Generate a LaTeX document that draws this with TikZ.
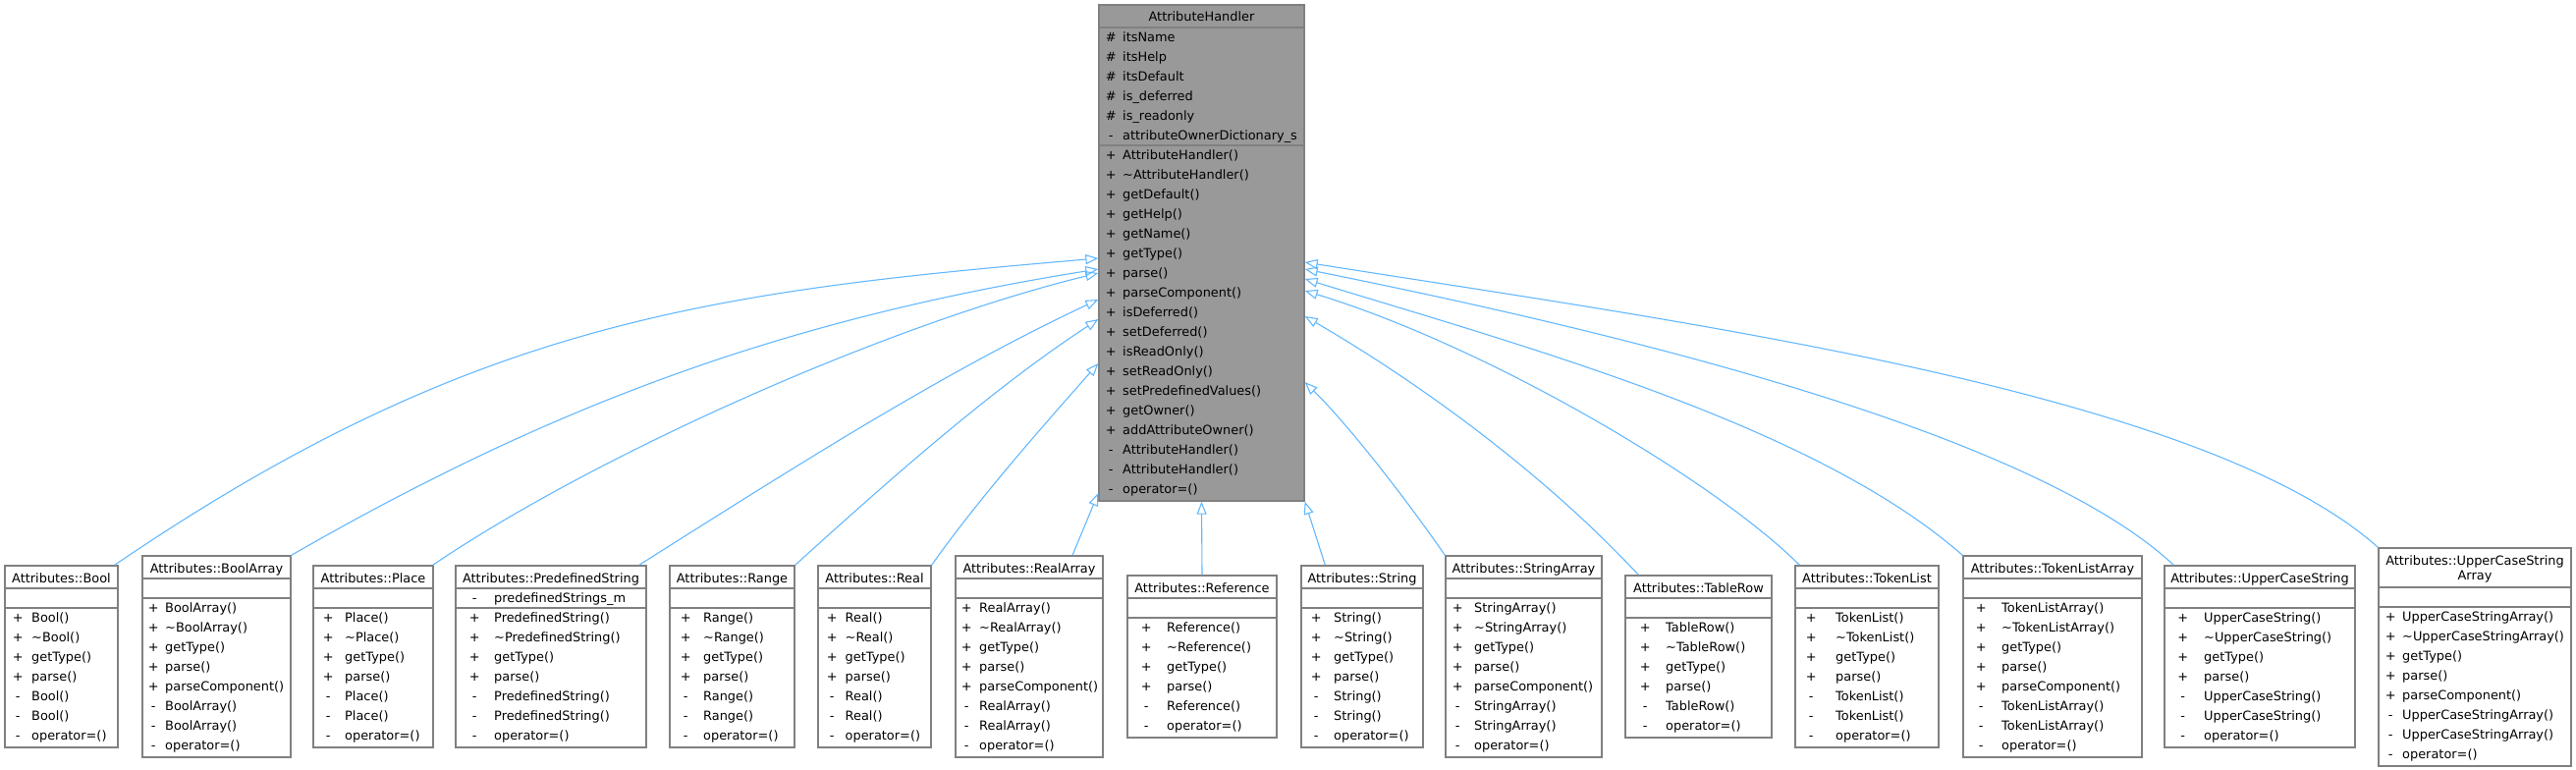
\documentclass[tikz,border=0pt]{standalone}
\usepackage{fontspec}
\setmainfont{DejaVu Sans}
\usetikzlibrary{arrows.meta,fit}
\definecolor{edgeblue}{HTML}{63B8FF}
\definecolor{boxgray}{HTML}{808080}
\definecolor{parentfill}{HTML}{999999}
\newlength{\mysymw}
\newlength{\mynamew}
\newcommand{\tld}{\textasciitilde}
\newcommand{\members}[3]{\setlength{\mysymw}{#1pt}\setlength{\mysymw}{2\mysymw}\setlength{\mynamew}{#2pt}\begin{tabular}{@{}l@{}}#3\end{tabular}}
\newcommand{\mem}[2]{\makebox[\mynamew][l]{\makebox[\mysymw][c]{#1}}#2\\}
\newcommand{\simplerows}[1]{\mem{+}{#1()}\mem{+}{\tld#1()}\mem{+}{getType()}\mem{+}{parse()}\mem{-}{#1()}\mem{-}{#1()}\mem{-}{operator=()}}
\newcommand{\arrayrows}[1]{\mem{+}{#1()}\mem{+}{\tld#1()}\mem{+}{getType()}\mem{+}{parse()}\mem{+}{parseComponent()}\mem{-}{#1()}\mem{-}{#1()}\mem{-}{operator=()}}
\newcommand{\shortrows}[1]{\mem{+}{#1()}\mem{+}{\tld#1()}\mem{+}{getType()}\mem{+}{parse()}\mem{-}{#1()}\mem{-}{operator=()}}
\begin{document}
\begin{tikzpicture}[x=1pt,y=-1pt,
  every node/.style={font=\fontsize{12.9}{20}\selectfont, inner sep=0pt, text=black},
  box/.style={draw=boxgray, line width=1.3pt, fill=white, inner sep=0pt},
  pbox/.style={box, fill=parentfill},
  div/.style={draw=boxgray, line width=1.3pt},
  inh/.style={draw=edgeblue, line width=1.1pt, -{Triangle[open, length=13pt, width=10pt]}}]
\useasboundingbox (0,0) rectangle (2623,784);

% ---------- parent ----------
\node[pbox, fit={(1119,5) (1328,510)}] (ah) {};
\draw[div] (ah.west |- 0,28) -- (ah.east |- 0,28);
\draw[div] (ah.west |- 0,148) -- (ah.east |- 0,148);
\node[anchor=base] (ah-t) at (1223.5,22) {AttributeHandler};
\node[anchor=north west] (ah-a) at (1119,28) {\members{12}{24}{\mem{\#}{itsName}\mem{\#}{itsHelp}\mem{\#}{itsDefault}\mem{\#}{is\_deferred}\mem{\#}{is\_readonly}\mem{-}{attributeOwnerDictionary\_s}}};
\node[anchor=north west] (ah-m) at (1119,148) {\members{12}{24}{\mem{+}{AttributeHandler()}\mem{+}{\tld AttributeHandler()}\mem{+}{getDefault()}\mem{+}{getHelp()}\mem{+}{getName()}\mem{+}{getType()}\mem{+}{parse()}\mem{+}{parseComponent()}\mem{+}{isDeferred()}\mem{+}{setDeferred()}\mem{+}{isReadOnly()}\mem{+}{setReadOnly()}\mem{+}{setPredefinedValues()}\mem{+}{getOwner()}\mem{+}{addAttributeOwner()}\mem{-}{AttributeHandler()}\mem{-}{AttributeHandler()}\mem{-}{operator=()}}};

% ---------- children ----------
% Bool
\node[box, fit={(5,576) (120,761)}] (bool) {};
\draw[div] (bool.west |- 0,599) -- (bool.east |- 0,599);
\draw[div] (bool.west |- 0,619) -- (bool.east |- 0,619);
\node[anchor=base] (bool-t) at (62.5,593) {Attributes::Bool};
\node[anchor=north west] (bool-m) at (5,619) {\members{13}{27}{\simplerows{Bool}}};
% BoolArray
\node[box, fit={(145,566) (296,771)}] (boolarray) {};
\draw[div] (boolarray.west |- 0,589) -- (boolarray.east |- 0,589);
\draw[div] (boolarray.west |- 0,609) -- (boolarray.east |- 0,609);
\node[anchor=base] (boolarray-t) at (220.5,583) {Attributes::BoolArray};
\node[anchor=north west] (boolarray-m) at (145,609) {\members{11}{23}{\arrayrows{BoolArray}}};
% Place
\node[box, fit={(319,576) (441,761)}] (place) {};
\draw[div] (place.west |- 0,599) -- (place.east |- 0,599);
\draw[div] (place.west |- 0,619) -- (place.east |- 0,619);
\node[anchor=base] (place-t) at (380,593) {Attributes::Place};
\node[anchor=north west] (place-m) at (319,619) {\members{15}{32}{\simplerows{Place}}};
% PredefinedString
\node[box, fit={(464,576) (658,761)}] (predef) {};
\draw[div] (predef.west |- 0,599) -- (predef.east |- 0,599);
\draw[div] (predef.west |- 0,619) -- (predef.east |- 0,619);
\node[anchor=base] (predef-t) at (561,593) {Attributes::PredefinedString};
\node[anchor=north west] (predef-a) at (464,599) {\members{19}{39}{\mem{-}{predefinedStrings\_m}}};
\node[anchor=north west] (predef-m) at (464,619) {\members{19}{39}{\simplerows{PredefinedString}}};
% Range
\node[box, fit={(682,576) (809,761)}] (range) {};
\draw[div] (range.west |- 0,599) -- (range.east |- 0,599);
\draw[div] (range.west |- 0,619) -- (range.east |- 0,619);
\node[anchor=base] (range-t) at (745.5,593) {Attributes::Range};
\node[anchor=north west] (range-m) at (682,619) {\members{16}{34}{\simplerows{Range}}};
% Real
\node[box, fit={(833,576) (948,761)}] (real) {};
\draw[div] (real.west |- 0,599) -- (real.east |- 0,599);
\draw[div] (real.west |- 0,619) -- (real.east |- 0,619);
\node[anchor=base] (real-t) at (890.5,593) {Attributes::Real};
\node[anchor=north west] (real-m) at (833,619) {\members{14}{27.5}{\simplerows{Real}}};
% RealArray
\node[box, fit={(973,566) (1123,771)}] (realarray) {};
\draw[div] (realarray.west |- 0,589) -- (realarray.east |- 0,589);
\draw[div] (realarray.west |- 0,609) -- (realarray.east |- 0,609);
\node[anchor=base] (realarray-t) at (1048,583) {Attributes::RealArray};
\node[anchor=north west] (realarray-m) at (973,609) {\members{11}{24}{\arrayrows{RealArray}}};
% Reference
\node[box, fit={(1148,586) (1300,751)}] (reference) {};
\draw[div] (reference.west |- 0,609) -- (reference.east |- 0,609);
\draw[div] (reference.west |- 0,629) -- (reference.east |- 0,629);
\node[anchor=base] (reference-t) at (1224,603) {Attributes::Reference};
\node[anchor=north west] (reference-m) at (1148,629) {\members{19}{40}{\shortrows{Reference}}};
% String
\node[box, fit={(1325,576) (1449,761)}] (string) {};
\draw[div] (string.west |- 0,599) -- (string.east |- 0,599);
\draw[div] (string.west |- 0,619) -- (string.east |- 0,619);
\node[anchor=base] (string-t) at (1387,593) {Attributes::String};
\node[anchor=north west] (string-m) at (1325,619) {\members{15}{33}{\simplerows{String}}};
% StringArray
\node[box, fit={(1472,566) (1631,771)}] (stringarray) {};
\draw[div] (stringarray.west |- 0,589) -- (stringarray.east |- 0,589);
\draw[div] (stringarray.west |- 0,609) -- (stringarray.east |- 0,609);
\node[anchor=base] (stringarray-t) at (1551.5,583) {Attributes::StringArray};
\node[anchor=north west] (stringarray-m) at (1472,609) {\members{12}{29}{\arrayrows{StringArray}}};
% TableRow
\node[box, fit={(1655,586) (1804,751)}] (tablerow) {};
\draw[div] (tablerow.west |- 0,609) -- (tablerow.east |- 0,609);
\draw[div] (tablerow.west |- 0,629) -- (tablerow.east |- 0,629);
\node[anchor=base] (tablerow-t) at (1729.5,603) {Attributes::TableRow};
\node[anchor=north west] (tablerow-m) at (1655,629) {\members{20}{41}{\shortrows{TableRow}}};
% TokenList
\node[box, fit={(1828,576) (1974,761)}] (tokenlist) {};
\draw[div] (tokenlist.west |- 0,599) -- (tokenlist.east |- 0,599);
\draw[div] (tokenlist.west |- 0,619) -- (tokenlist.east |- 0,619);
\node[anchor=base] (tokenlist-t) at (1901,593) {Attributes::TokenList};
\node[anchor=north west] (tokenlist-m) at (1828,619) {\members{16}{41}{\simplerows{TokenList}}};
% TokenListArray
\node[box, fit={(1999,566) (2181,771)}] (tokenlistarray) {};
\draw[div] (tokenlistarray.west |- 0,589) -- (tokenlistarray.east |- 0,589);
\draw[div] (tokenlistarray.west |- 0,609) -- (tokenlistarray.east |- 0,609);
\node[anchor=base] (tokenlistarray-t) at (2090,583) {Attributes::TokenListArray};
\node[anchor=north west] (tokenlistarray-m) at (1999,609) {\members{18}{39}{\arrayrows{TokenListArray}}};
% UpperCaseString
\node[box, fit={(2204,576) (2398,761)}] (ucs) {};
\draw[div] (ucs.west |- 0,599) -- (ucs.east |- 0,599);
\draw[div] (ucs.west |- 0,619) -- (ucs.east |- 0,619);
\node[anchor=base] (ucs-t) at (2301,593) {Attributes::UpperCaseString};
\node[anchor=north west] (ucs-m) at (2204,619) {\members{18.5}{40}{\simplerows{UpperCaseString}}};
% UpperCaseStringArray
\node[box, fit={(2422,558) (2618,780)}] (ucsa) {};
\draw[div] (ucsa.west |- 0,598) -- (ucsa.east |- 0,598);
\draw[div] (ucsa.west |- 0,618) -- (ucsa.east |- 0,618);
\node[anchor=base] (ucsa-t1) at (2520,575) {Attributes::UpperCaseString};
\node[anchor=base] (ucsa-t2) at (2520,590) {Array};
\node[anchor=north west] (ucsa-m) at (2422,618) {\members{12}{24}{\arrayrows{UpperCaseStringArray}}};

% ---------- inheritance connectors ----------
\draw[inh] ([xshift=-4pt]bool.north east) .. controls (480,328) and (721,297) .. (ah.west |- 0,263);
\draw[inh] (boolarray.north east) .. controls (558,415) and (793,326) .. (ah.west |- 0,274);
\draw[inh] ([xshift=-1pt]place.north east) .. controls (608,462) and (905,330) .. (ah.west |- 0,278);
\draw[inh] ([xshift=-8pt]predef.north east) .. controls (802,480) and (956,381) .. (ah.west |- 0,305);
\draw[inh] (range.north east) .. controls (906,488) and (1010,396) .. (ah.west |- 0,325);
\draw[inh] (real.north east) .. controls (994,511) and (1059,437) .. (ah.west |- 0,370);
\draw[inh] ([xshift=44pt]realarray.north) -- (ah.south west |- 0,502);
\draw[inh] (reference.north) -- (ah.south);
\draw[inh] ([xshift=25pt]string.north west) -- (ah.south east);
\draw[inh] (stringarray.north west) .. controls (1440,520) and (1380,440) .. (ah.east |- 0,389);
\draw[inh] ([xshift=14pt]tablerow.north west) .. controls (1574,484) and (1449,392) .. (ah.east |- 0,322);
\draw[inh] ([xshift=5pt]tokenlist.north west) .. controls (1748,491) and (1518,354) .. (ah.east |- 0,296);
\draw[inh] (tokenlistarray.north west) .. controls (1849,434) and (1557,354) .. (ah.east |- 0,284);
\draw[inh] ([xshift=10pt]ucs.north west) .. controls (2064,436) and (1627,334) .. (ah.east |- 0,274);
\draw[inh] (ucsa.north west) .. controls (2242,397) and (1707,327) .. (ah.east |- 0,267);
\end{tikzpicture}
\end{document}
